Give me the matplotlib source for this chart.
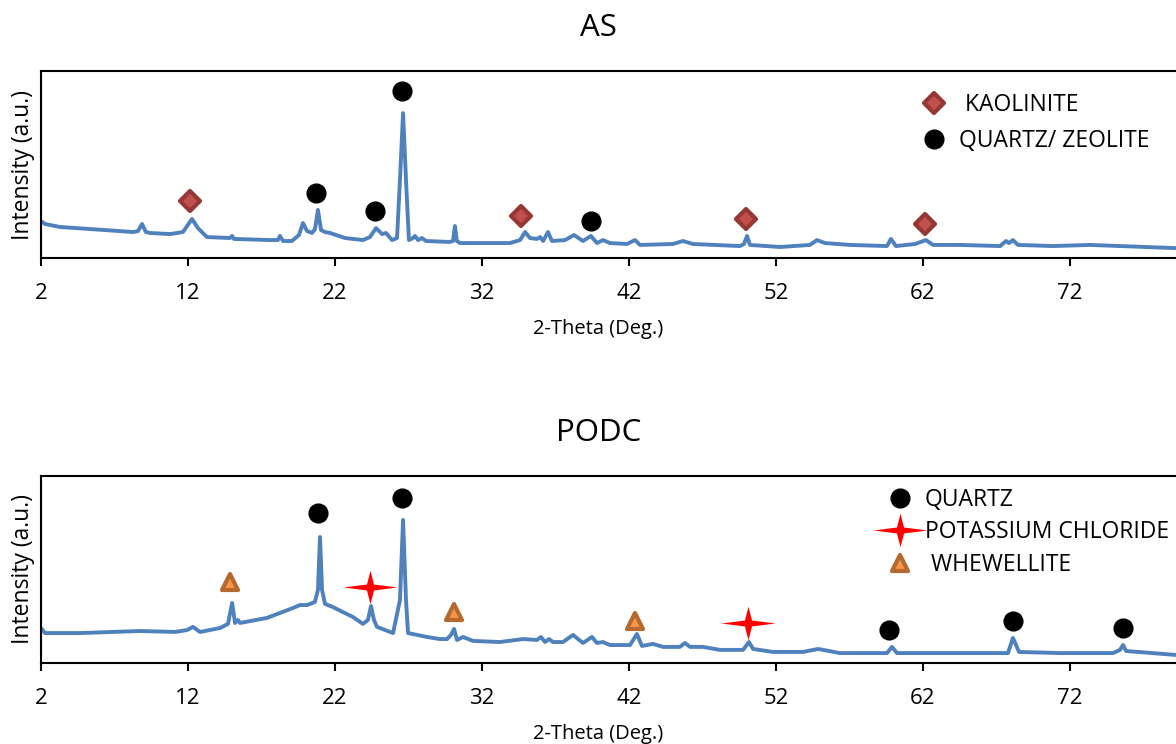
import matplotlib
matplotlib.use("Agg")
import matplotlib.pyplot as plt
from matplotlib.markers import MarkerStyle
from matplotlib.path import Path

plt.rcParams['font.family'] = ['Open Sans', 'DejaVu Sans']

# AS pattern (2-theta, intensity a.u.)
as_tt = [2.0, 2.27, 3.29, 5.33, 7.37, 8.26, 8.6, 8.87, 9.14, 9.41, 10.78, 11.66, 12.27, 12.68, 13.29,
         14.86, 15.0, 15.13, 17.58, 18.12, 18.26, 18.46, 19.07, 19.55, 19.82, 20.1, 20.44, 20.64, 20.84,
         21.05, 21.32, 21.66, 22.68, 23.9, 24.38, 24.79, 25.2, 25.47, 25.88, 26.22, 26.42, 26.63, 26.83,
         27.03, 27.31, 27.44, 27.65, 27.92, 28.19, 29.82, 30.03, 30.16, 30.29, 30.5, 33.9, 34.59, 34.93,
         35.27, 35.74, 35.95, 36.16, 36.49, 36.76, 37.65, 38.26, 38.87, 39.41, 39.82, 40.23, 40.71, 41.86,
         42.41, 42.75, 44.99, 45.67, 46.35, 49.55, 49.82, 50.03, 50.23, 52.27, 54.31, 54.79, 55.33, 57.03,
         59.55, 59.82, 60.16, 61.46, 62.2, 62.68, 64.52, 67.24, 67.65, 67.85, 68.12, 68.46, 70.84, 73.36,
         75.4, 79.2, 80.0]
as_int = [19.8, 18.2, 16.6, 15.5, 14.4, 13.9, 14.4, 18.2, 13.9, 13.4, 12.8, 13.9, 20.9, 16.0, 11.2,
          10.7, 11.8, 10.2, 9.6, 9.6, 11.8, 9.1, 9.1, 12.3, 18.7, 14.4, 13.4, 15.5, 25.7,
          15.0, 13.9, 13.4, 10.7, 9.6, 11.2, 16.0, 12.8, 13.4, 9.6, 10.7, 41.7, 77.5, 41.7,
          9.6, 10.7, 11.8, 9.6, 10.7, 9.1, 8.6, 9.1, 17.1, 9.1, 8.0, 8.0, 9.6, 13.9,
          10.7, 10.2, 11.2, 9.1, 13.9, 9.1, 9.6, 12.3, 9.1, 11.8, 8.0, 9.6, 8.0, 7.5,
          9.6, 7.0, 7.5, 9.1, 7.5, 6.4, 7.5, 11.8, 7.0, 5.9, 7.0, 9.6, 8.0, 7.0,
          6.4, 10.2, 6.4, 7.5, 9.6, 7.0, 7.0, 6.4, 9.1, 8.0, 9.6, 7.0, 6.4, 7.0,
          6.4, 5.3, 5.2]

# PODC pattern
podc_tt = [2.0, 2.27, 4.65, 8.73, 11.12, 11.93, 12.34, 12.82, 14.18, 14.72, 15.0, 15.2, 15.4, 15.54,
           17.37, 19.14, 19.62, 20.1, 20.63, 20.84, 20.98, 21.12, 21.32, 21.86, 23.22, 23.9, 24.24,
           24.45, 24.65, 24.86, 25.95, 26.42, 26.63, 26.83, 26.97, 28.26, 29.14, 29.62, 29.89, 30.1,
           30.3, 30.71, 31.39, 33.22, 34.79, 35.74, 36.01, 36.29, 36.56, 36.83, 37.51, 38.19, 38.87,
           39.48, 39.82, 40.23, 40.71, 42.07, 42.54, 42.88, 43.63, 44.31, 45.46, 45.81, 46.15, 47.03,
           48.19, 49.76, 50.16, 50.44, 51.8, 53.84, 54.86, 56.35, 59.55, 59.89, 60.23, 64.04, 67.78,
           68.12, 68.33, 68.53, 71.32, 74.93, 75.4, 75.61, 75.82, 79.2, 80.0]
podc_int = [18.7, 16.0, 16.0, 17.1, 16.6, 17.6, 19.3, 16.6, 18.7, 20.9, 32.1, 21.4, 23.0, 21.4,
            24.1, 29.4, 31.0, 31.0, 32.6, 39.0, 67.4, 39.0, 31.6, 29.9, 24.6, 20.9, 23.0,
            30.5, 23.0, 19.3, 16.0, 33.7, 76.5, 33.7, 16.0, 13.9, 12.8, 12.8, 15.0, 18.2,
            12.3, 13.9, 11.8, 11.2, 12.8, 12.3, 13.9, 11.2, 12.8, 11.2, 11.2, 15.0, 10.7,
            13.9, 10.7, 11.2, 9.6, 9.6, 15.5, 9.1, 10.2, 8.6, 8.6, 10.7, 8.6, 8.6,
            7.0, 7.0, 11.2, 7.5, 5.9, 5.9, 7.5, 5.3, 5.3, 8.6, 5.3, 5.3, 5.3,
            13.4, 9.6, 5.9, 5.3, 5.3, 7.0, 9.6, 6.4, 4.3, 4.2]

# phase markers
kao_tt = [12.14, 34.65, 49.96, 62.14]
kao_int = [30.5, 22.5, 20.9, 18.2]
qz_as_tt = [26.56, 20.71, 24.72, 39.41]
qz_as_int = [89.3, 34.8, 25.1, 19.8]

qz_tt = [20.84, 26.56, 59.69, 68.12, 75.61]
qz_int = [80.2, 88.2, 17.6, 22.5, 18.7]
kcl_tt = [24.38, 50.1]
kcl_int = [40.6, 21.4]
whe_tt = [14.86, 30.1, 42.41]
whe_int = [43.3, 27.3, 22.5]

xticks = [2, 12, 22, 32, 42, 52, 62, 72]

line_col = '#4F81BD'

star = Path([(1, 0), (0.13, 0.11), (0, 0.62), (-0.13, 0.11), (-1, 0),
             (-0.13, -0.11), (0, -0.62), (0.13, -0.11), (1, 0)],
            [Path.MOVETO] + [Path.LINETO] * 7 + [Path.CLOSEPOLY])

fig = plt.figure(figsize=(11.76, 7.44), dpi=100)
ax1 = fig.add_axes([0.03486, 0.6532, 0.975, 0.2513])
ax2 = fig.add_axes([0.03486, 0.1089, 0.975, 0.2513])


def style(ax, title):
    ax.set_xlim(2, 80)
    ax.set_ylim(0, 100)
    ax.set_xticks(xticks)
    ax.set_yticks([])
    ax.tick_params(axis='x', direction='out', length=6, width=1.5, labelsize=16, pad=12)
    for s in ax.spines.values():
        s.set_linewidth(1.5)
    ax.set_xlabel('2-Theta (Deg.)', fontsize=14.5, labelpad=11, x=0.486)
    ax.set_ylabel('Intensity (a.u.)', fontsize=16.5, labelpad=4)
    ax.set_title(title, fontsize=22.5, pad=25, x=0.486)


dia = MarkerStyle('D', joinstyle='round')
tri = MarkerStyle('^', joinstyle='round')

# AS
ax1.plot(as_tt, as_int, color=line_col, lw=2.8)
ax1.plot(kao_tt, kao_int, ls='none', marker=dia, ms=10, mfc='#C0504D', mec='#953735', mew=3,
         label=' KAOLINITE')
ax1.plot(qz_as_tt, qz_as_int, ls='none', marker='o', ms=13.5, color='black', label='QUARTZ/ ZEOLITE')
style(ax1, 'AS')
ax1.legend(loc='center left', bbox_to_anchor=(0.749, 0.72), frameon=False, fontsize=16.5,
           handlelength=1.2, handletextpad=0.48, labelspacing=0.53, numpoints=1, borderpad=0.4)

# PODC
ax2.plot(podc_tt, podc_int, color=line_col, lw=2.8)
ax2.plot(qz_tt, qz_int, ls='none', marker='o', ms=13.5, color='black', label='QUARTZ')
ax2.plot(kcl_tt, kcl_int, ls='none', marker=star, ms=39, color='#FF0000', mew=0,
         label='POTASSIUM CHLORIDE')
ax2.plot(whe_tt, whe_int, ls='none', marker=tri, ms=12, mfc='#F79646', mec='#B5692E', mew=3,
         label=' WHEWELLITE')
style(ax2, 'PODC')
ax2.legend(loc='center left', bbox_to_anchor=(0.719, 0.698), frameon=False, fontsize=16.5,
           handlelength=1.2, handletextpad=0.48, labelspacing=0.39, numpoints=1, borderpad=0.4)

fig.savefig('out.png', dpi=100)
